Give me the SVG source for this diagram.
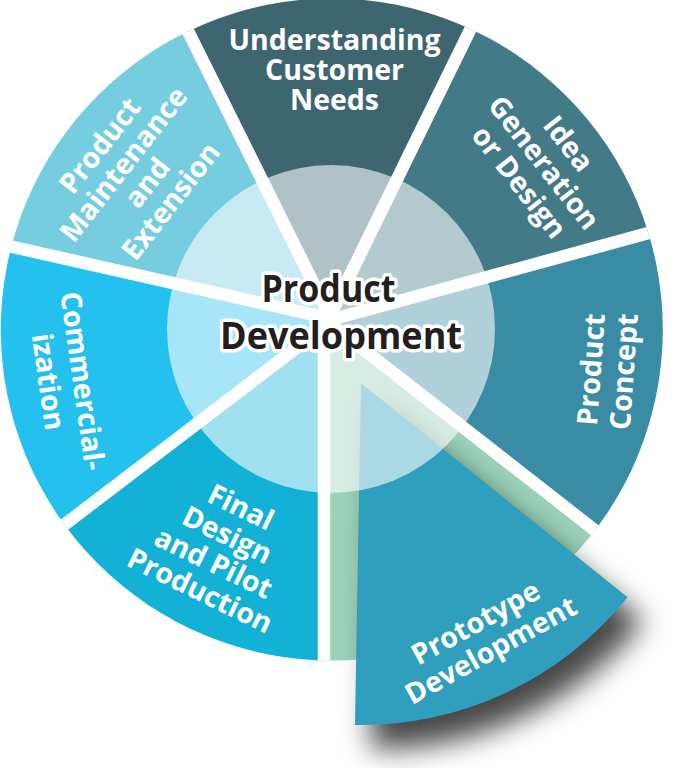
<svg xmlns="http://www.w3.org/2000/svg" width="698" height="768" viewBox="0 0 698 768">
<defs>
<style>
.lbl{font-family:"Open Sans","Liberation Sans",sans-serif;font-weight:700;font-size:28.5px;fill:#fff;text-anchor:middle}
.ctr{font-family:"Open Sans","Liberation Sans",sans-serif;font-weight:700;font-size:37px;fill:#231f20;text-anchor:middle;stroke:#fff;stroke-width:7;stroke-linejoin:round;paint-order:stroke fill}
.gap{stroke:#fff;stroke-width:12.5;fill:none}
</style>
<clipPath id="wheelClip"><circle cx="331.8" cy="329.5" r="331"/></clipPath>
<filter id="shadow" x="-40%" y="-40%" width="190%" height="190%">
<feGaussianBlur in="SourceAlpha" stdDeviation="14"/>
<feOffset dx="16" dy="24" result="b"/>
<feFlood flood-color="#000" flood-opacity="0.72"/>
<feComposite in2="b" operator="in"/>
</filter>
</defs>
<rect width="698" height="768" fill="#fff"/>
<g id="wheel" clip-path="url(#wheelClip)">
<polygon id="seg-understanding" points="327,320 108.1,-129.7 548.9,-131" fill="#3e6670"/>
<polygon id="seg-idea" points="327,320 548.9,-131 808.3,189.5" fill="#437a88"/>
<polygon id="seg-concept" points="327,320 808.3,189.5 720,628.1" fill="#3a8ca4"/>
<polygon id="seg-prototype-origin" points="327,320 720,628.1 324,820" fill="#9bd0b9"/>
<polygon id="seg-final" points="327,320 324,820 -71.6,628.4" fill="#13b1d6"/>
<polygon id="seg-commercial" points="327,320 -71.6,628.4 -161.7,207.5" fill="#25c1ee"/>
<polygon id="seg-maintenance" points="327,320 -161.7,207.5 108.1,-129.7" fill="#77cde0"/>
</g>
<g id="connectors" clip-path="url(#wheelClip)">
<line class="gap" x1="329" y1="318" x2="548.9" y2="-131"/>
<line class="gap" x1="330.7" y1="318" x2="108.1" y2="-129.7"/>
<line class="gap" x1="326" y1="317.7" x2="-161.7" y2="207.5"/>
<line class="gap" x1="326" y1="325.2" x2="-71.6" y2="628.4"/>
<line class="gap" x1="324" y1="318" x2="324" y2="820"/>
<line class="gap" x1="326" y1="320.2" x2="720" y2="628.1"/>
<line class="gap" x1="326" y1="321" x2="808.3" y2="189.5"/>
</g>
<g id="prototype-exploded">
<path d="M361,383 L627.5,597.3 A342,342 0 0 1 355,725 Z" filter="url(#shadow)"/>
<path d="M361,383 L627.5,597.3 A342,342 0 0 1 355,725 Z" fill="#2f9fbd"/>
</g>
<circle id="center-disc" cx="331" cy="329" r="164" fill="#fff" fill-opacity="0.6"/>
<g id="node-center">
<text class="ctr" x="328.5" y="301.5" textLength="134" lengthAdjust="spacingAndGlyphs">Product</text>
<text class="ctr" x="341" y="348.5" textLength="242" lengthAdjust="spacingAndGlyphs">Development</text>
</g>
<g id="node-understanding">
<text class="lbl" x="334.5" y="50">Understanding</text>
<text class="lbl" x="334.5" y="80">Customer</text>
<text class="lbl" x="334.5" y="109.5">Needs</text>
</g>
<g id="node-idea" transform="translate(543.3,163.3) rotate(52)">
<text class="lbl" x="0" y="-22">Idea</text>
<text class="lbl" x="0" y="9">Generation</text>
<text class="lbl" x="0" y="40.5">or Design</text>
</g>
<g id="node-concept" transform="translate(607.4,370.5) rotate(-86)">
<text class="lbl" x="0" y="-6.5">Product</text>
<text class="lbl" x="0" y="26.5">Concept</text>
</g>
<g id="node-prototype" transform="translate(483.5,637) rotate(-29)">
<text class="lbl" x="0" y="-6.6">Prototype</text>
<text class="lbl" x="0" y="25">Development</text>
</g>
<g id="node-final" transform="translate(220,549.7) rotate(26)">
<text class="lbl" x="0" y="-37.5">Final</text>
<text class="lbl" x="0" y="-6.5">Design</text>
<text class="lbl" x="0" y="24.5">and Pilot</text>
<text class="lbl" x="0" y="55.5">Production</text>
</g>
<g id="node-commercialization" transform="translate(64.6,381.4) rotate(82)">
<text class="lbl" x="2" y="-8">Commercial-</text>
<text class="lbl" x="-2" y="26">ization</text>
</g>
<g id="node-maintenance" transform="translate(136,174) rotate(-52)">
<text class="lbl" x="0" y="-36">Product</text>
<text class="lbl" x="0" y="-6">Maintenance</text>
<text class="lbl" x="0" y="24">and</text>
<text class="lbl" x="0" y="54">Extension</text>
</g>
</svg>
